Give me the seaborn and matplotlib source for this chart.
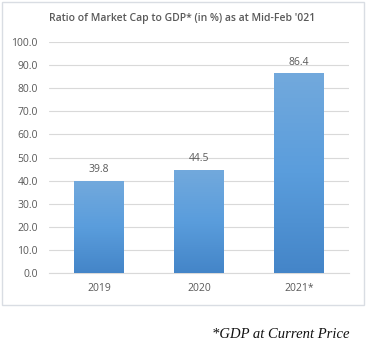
import numpy as np
import pandas as pd
import matplotlib
matplotlib.use("Agg")
import matplotlib.pyplot as plt
from matplotlib.patches import Rectangle
from matplotlib.colors import LinearSegmentedColormap
import seaborn as sns

years = ["2019", "2020", "2021*"]
ratio = [39.8, 44.5, 86.4]
y_ticks = [0, 10, 20, 30, 40, 50, 60, 70, 80, 90, 100]

title = "Ratio of Market Cap to GDP* (in %) as at Mid-Feb '021"
footnote = "*GDP at Current Price"

df = pd.DataFrame({"year": years, "ratio": ratio})

sns.set_theme(style="white")
plt.rcParams["font.family"] = ["Open Sans", "DejaVu Sans"]

text_color = "#595959"
grid_color = "#d9d9d9"

fig = plt.figure(figsize=(3.68, 3.45), dpi=100)
ax = fig.add_axes([49 / 368, 1 - 273 / 345, 300 / 368, 231 / 345])

sns.barplot(data=df, x="year", y="ratio", color="#5b9bd5", width=0.5,
            saturation=1, ax=ax, zorder=2)

# vertical gradient fill on each bar
cmap = LinearSegmentedColormap.from_list("bar", ["#4485c8", "#5a9ddc", "#72a9dd"])
grad = np.linspace(0, 1, 256).reshape(-1, 1)
for patch in ax.patches:
    x0, y0 = patch.get_x(), patch.get_y()
    w, h = patch.get_width(), patch.get_height()
    im = ax.imshow(grad, cmap=cmap, aspect="auto", origin="lower",
                   extent=[x0, x0 + w, y0, y0 + h], zorder=3)
    im.set_clip_path(patch)
    patch.set_edgecolor("none")

for i, v in enumerate(ratio):
    ax.text(i, v + 2.5, f"{v:.1f}", ha="center", va="bottom",
            fontsize=7.5, color=text_color, zorder=4)

ax.set_xlim(-0.5, 2.5)
ax.set_ylim(0, 100)
ax.set_yticks(y_ticks)
ax.set_yticklabels([f"{t:.1f}" for t in y_ticks])
ax.yaxis.grid(True, color=grid_color, linewidth=0.8, zorder=0)
ax.set_axisbelow(True)
for s in ax.spines.values():
    s.set_visible(False)
ax.spines["bottom"].set_visible(True)
ax.spines["bottom"].set_color(grid_color)
ax.spines["bottom"].set_linewidth(0.8)
ax.tick_params(axis="both", length=0, labelsize=7.5, colors=text_color)
ax.tick_params(axis="y", pad=8)
ax.tick_params(axis="x", pad=7)
ax.set_xlabel("")
ax.set_ylabel("")

fig.text(182 / 368, 1 - 18 / 345, title, ha="center", va="center",
         fontsize=7.5, color=text_color, fontweight="semibold")

# outer chart frame
fig.patches.append(Rectangle((2 / 368, 1 - 305 / 345), 362 / 368, 303 / 345,
                             transform=fig.transFigure, fill=False,
                             edgecolor="#d9dde3", linewidth=1.0))

fig.text(349 / 368, 1 - 334 / 345, footnote, ha="right", va="center",
         fontsize=10.5, family=["Liberation Serif", "DejaVu Serif"],
         style="italic", color="#111111")

fig.savefig("out.png", dpi=100)
